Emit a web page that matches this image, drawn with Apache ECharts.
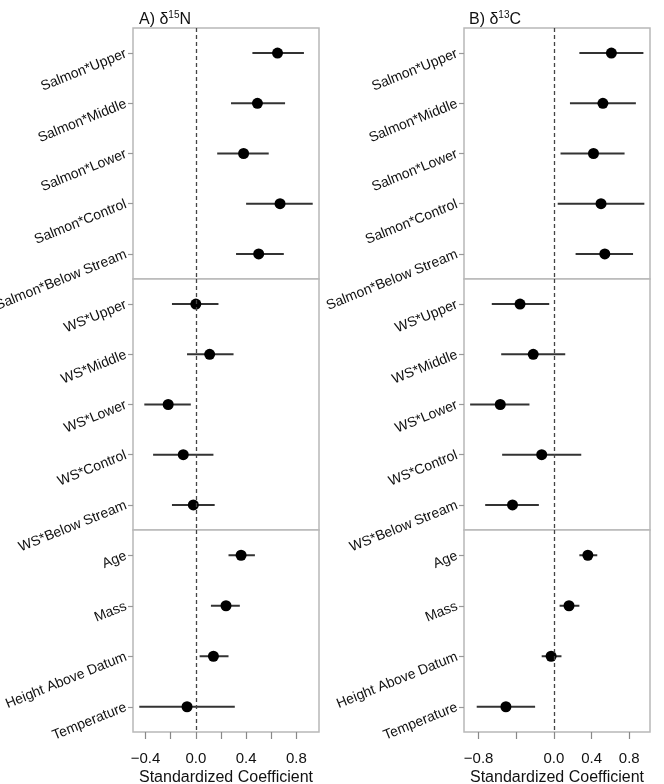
<!DOCTYPE html>
<html>
<head>
<meta charset="utf-8">
<script src="https://cdn.jsdelivr.net/npm/echarts@6/dist/echarts.min.js"></script>
<style>html,body{margin:0;background:#fff}#chart{width:664px;height:784px}</style>
</head>
<body>
<div id="chart"></div>
<script>
const salmonTerms = ['Salmon*Upper', 'Salmon*Middle', 'Salmon*Lower', 'Salmon*Control', 'Salmon*Below Stream'];
const wsTerms = ['WS*Upper', 'WS*Middle', 'WS*Lower', 'WS*Control', 'WS*Below Stream'];
const covTerms = ['Age', 'Mass', 'Height Above Datum', 'Temperature'];

// A) delta 15N
const n15SalmonEst = [0.65, 0.49, 0.38, 0.67, 0.50];
const n15SalmonLo = [0.45, 0.28, 0.17, 0.40, 0.32];
const n15SalmonHi = [0.86, 0.71, 0.58, 0.93, 0.70];
const n15WsEst = [0.00, 0.11, -0.22, -0.10, -0.02];
const n15WsLo = [-0.19, -0.07, -0.41, -0.34, -0.19];
const n15WsHi = [0.18, 0.30, -0.04, 0.14, 0.15];
const n15CovEst = [0.36, 0.24, 0.14, -0.07];
const n15CovLo = [0.26, 0.12, 0.03, -0.45];
const n15CovHi = [0.47, 0.35, 0.26, 0.31];

// B) delta 13C
const c13SalmonEst = [0.61, 0.52, 0.42, 0.50, 0.54];
const c13SalmonLo = [0.27, 0.17, 0.07, 0.04, 0.23];
const c13SalmonHi = [0.95, 0.87, 0.75, 0.96, 0.84];
const c13WsEst = [-0.36, -0.22, -0.57, -0.13, -0.44];
const c13WsLo = [-0.66, -0.56, -0.89, -0.55, -0.73];
const c13WsHi = [-0.05, 0.12, -0.26, 0.29, -0.16];
const c13CovEst = [0.36, 0.16, -0.03, -0.51];
const c13CovLo = [0.27, 0.06, -0.13, -0.82];
const c13CovHi = [0.46, 0.27, 0.08, -0.20];

const n15Ticks = [-0.4, -0.2, 0, 0.2, 0.4, 0.6, 0.8];
const n15Labels = [-0.4, 0, 0.4, 0.8];
const c13Ticks = [-0.8, -0.4, 0, 0.4, 0.8];
const c13Labels = [-0.8, 0, 0.4, 0.8];

const font = "'Liberation Sans', Arial, Helvetica, sans-serif";
const chart = echarts.init(document.getElementById('chart'));

const panels = [
  {
    left: 133, width: 186, min: -0.5, max: 0.98, ticks: n15Ticks, labels: n15Labels,
    facets: [
      [salmonTerms, n15SalmonEst, n15SalmonLo, n15SalmonHi],
      [wsTerms, n15WsEst, n15WsLo, n15WsHi],
      [covTerms, n15CovEst, n15CovLo, n15CovHi]
    ]
  },
  {
    left: 464, width: 186, min: -0.955, max: 1.02, ticks: c13Ticks, labels: c13Labels,
    facets: [
      [salmonTerms, c13SalmonEst, c13SalmonLo, c13SalmonHi],
      [wsTerms, c13WsEst, c13WsLo, c13WsHi],
      [covTerms, c13CovEst, c13CovLo, c13CovHi]
    ]
  }
];
const facetTop = [28, 279, 530];
const facetHeight = [251, 251, 202];

const grid = [], xAxis = [], yAxis = [], series = [];
const fmt = v => (v < 0 ? '\u2212' : '') + Math.abs(v).toFixed(1);

panels.forEach((p, pi) => {
  p.facets.forEach((f, fi) => {
    const idx = grid.length;
    const [terms, est, lo, hi] = f;
    const bottom = fi === 2;
    grid.push({
      left: p.left, width: p.width, top: facetTop[fi], height: facetHeight[fi],
      outerBoundsMode: 'none', containLabel: false,
      show: true, borderColor: '#b8b8b8', borderWidth: 1.5, backgroundColor: '#fff'
    });
    xAxis.push({
      type: 'value', gridIndex: idx, min: p.min, max: p.max, show: bottom,
      splitLine: { show: false },
      axisLine: { show: false, onZero: false },
      axisTick: { show: true, length: 7, customValues: p.ticks, lineStyle: { color: '#888', width: 1.2 } },
      axisLabel: {
        customValues: p.labels, formatter: fmt, margin: 19,
        color: '#111', fontSize: 15, fontFamily: font
      },
      name: 'Standardized Coefficient', nameLocation: 'middle', nameGap: 38,
      nameTextStyle: { color: '#111', fontSize: 16, fontFamily: font }
    });
    yAxis.push({
      type: 'category', gridIndex: idx, data: terms, inverse: true,
      axisLine: { show: false, onZero: false },
      axisTick: { show: true, alignWithLabel: true, length: 5, lineStyle: { color: '#999', width: 1.2 } },
      axisLabel: { rotate: 22, margin: 7, color: '#111', fontSize: 14, fontFamily: font, interval: 0 },
      splitLine: { show: false }
    });
    series.push({
      type: 'custom', xAxisIndex: idx, yAxisIndex: idx, silent: true,
      data: terms.map((t, i) => [i, lo[i], hi[i]]),
      encode: { x: [1, 2], y: 0 },
      renderItem: (params, api) => {
        const a = api.coord([api.value(1), api.value(0)]);
        const b = api.coord([api.value(2), api.value(0)]);
        return {
          type: 'line',
          shape: { x1: a[0], y1: a[1], x2: b[0], y2: b[1] },
          style: { stroke: '#333', lineWidth: 2 }
        };
      },
      z: 2
    });
    series.push({
      type: 'scatter', xAxisIndex: idx, yAxisIndex: idx, silent: true,
      data: terms.map((t, i) => [est[i], i]),
      symbolSize: 11, itemStyle: { color: '#000', opacity: 1 },
      z: 3,
      markLine: {
        silent: true, symbol: ['none', 'none'], label: { show: false },
        lineStyle: { color: '#444', type: [4, 3], width: 1.3 },
        data: [{ xAxis: 0 }]
      }
    });
  });
});

const titleRich = {
  a: { fontSize: 16, color: '#111', fontFamily: font, fontWeight: 'normal' },
  s: { fontSize: 10, color: '#111', fontFamily: font, fontWeight: 'normal', padding: [0, 0, 10, 0] }
};

chart.setOption({
  backgroundColor: '#fff',
  animation: false,
  title: [
    { text: '{a|A) \u03b4}{s|15}{a|N}', left: 134, top: 5, textStyle: { rich: titleRich, fontWeight: 'normal' } },
    { text: '{a|B) \u03b4}{s|13}{a|C}', left: 464, top: 5, textStyle: { rich: titleRich, fontWeight: 'normal' } }
  ],
  grid, xAxis, yAxis, series
});
</script>
</body>
</html>
